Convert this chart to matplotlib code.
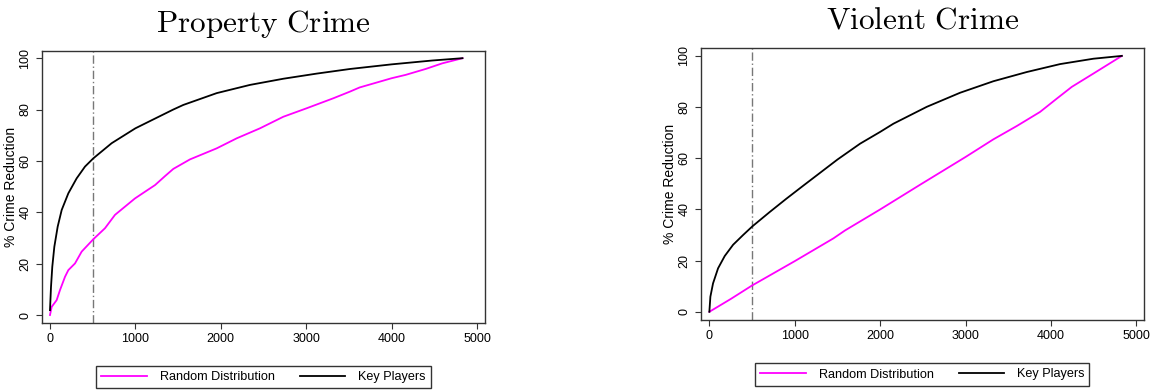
import matplotlib
matplotlib.use("Agg")
import matplotlib.pyplot as plt
from matplotlib.lines import Line2D

plt.rcParams["font.family"] = ["Liberation Sans", "DejaVu Sans"]
plt.rcParams["mathtext.fontset"] = "cm"

# Property crime: key players curve
prop_key_x = [0, 12, 27, 51, 90, 137, 215, 312, 410, 507, 722, 1000, 1200, 1443,
              1561, 1952, 2342, 2732, 3123, 3513, 4000, 4477, 4830]
prop_key_y = [1.9, 11, 18.8, 26.6, 34.4, 40.9, 47.4, 53.2, 57.8, 61.0, 66.9, 72.7,
              76.0, 80.0, 81.8, 86.4, 89.6, 92.0, 94.0, 95.8, 97.6, 99.1, 100]

# Property crime: random distribution
prop_rand_x = [0, 20, 78, 117, 176, 215, 293, 371, 507, 644, 761, 878, 995, 1112,
               1230, 1347, 1444, 1639, 1952, 2186, 2459, 2732, 3005, 3318, 3513,
               3625, 4000, 4164, 4398, 4594, 4830]
prop_rand_y = [0, 3.2, 5.8, 9.7, 14.9, 17.5, 20.1, 24.7, 29.5, 33.8, 39, 42.2, 45.4,
               48.0, 50.6, 54.1, 56.9, 60.6, 64.9, 68.8, 72.7, 77.2, 80.5, 84.4, 87.0,
               88.6, 92.2, 93.5, 95.8, 98, 100]

# Violent crime: key players curve
viol_key_x = [0, 12, 43, 102, 180, 278, 395, 504, 707, 902, 1100, 1300, 1500, 1765,
              2000, 2155, 2546, 2936, 3326, 3717, 4107, 4497, 4830]
viol_key_y = [0, 5.9, 11.1, 17, 21.8, 26.2, 30.0, 33.4, 39.0, 44.2, 49.3, 54.4, 59.5,
              65.7, 70.3, 73.5, 80.1, 85.6, 90.1, 93.7, 96.8, 98.9, 100]

# Violent crime: random distribution
viol_rand_x = [0, 250, 496, 1000, 1453, 1589, 2000, 2465, 3000, 3326, 3600, 3872,
               4068, 4244, 4497, 4830]
viol_rand_y = [0, 5, 10.2, 19.8, 28.7, 31.8, 40, 49.6, 60.5, 67.4, 72.6, 78.1,
               83.3, 87.9, 93.1, 100]

cutoff = 500
titles = ["Property Crime", "Violent Crime"]
x_ticks = [0, 1000, 2000, 3000, 4000, 5000]
y_ticks = [0, 20, 40, 60, 80, 100]

fig = plt.figure(figsize=(11.59, 3.92), dpi=100)
ax1 = fig.add_axes([0.0362, 0.176, 0.3823, 0.6939])
ax2 = fig.add_axes([0.6046, 0.1837, 0.3825, 0.6946])

panels = [
    (ax1, prop_rand_x, prop_rand_y, prop_key_x, prop_key_y, (-94, 5094), (-3.1, 102.8), 377),
    (ax2, viol_rand_x, viol_rand_y, viol_key_x, viol_key_y, (-101, 5090), (-3.2, 103.2), 374.5),
]

for i, (ax, rx, ry, kx, ky, xl, yl, leg_y) in enumerate(panels):
    ax.axvline(cutoff, color="#777777", linewidth=1, dashes=(6, 2, 1, 2))
    ax.plot(rx, ry, color="#ff00ff", linewidth=1.3)
    ax.plot(kx, ky, color="black", linewidth=1.3)
    ax.set_xlim(*xl)
    ax.set_ylim(*yl)
    ax.set_xticks(x_ticks)
    ax.set_yticks(y_ticks)
    ax.set_yticklabels([str(v) for v in y_ticks], rotation=90, va="center")
    ax.tick_params(labelsize=9, length=4, width=0.8, color="#333333", direction="out")
    ax.set_ylabel("% Crime Reduction", fontsize=10, labelpad=1)
    for s in ax.spines.values():
        s.set_linewidth(1.0)
        s.set_color("#333333")
    ax.set_title(r"$\mathrm{" + titles[i].replace(" ", r"\ ") + "}$", fontsize=22.5, pad=14)

    handles = [Line2D([], [], color="#ff00ff", linewidth=1.3),
               Line2D([], [], color="black", linewidth=1.3)]
    bb = ax.get_position()
    cx = (bb.x0 + bb.x1) / 2
    cy = 1 - leg_y / 392
    leg = fig.legend(handles, ["Random Distribution", "Key Players"], loc="center",
                     bbox_to_anchor=(cx, cy), ncol=2, fontsize=9.1, frameon=True,
                     fancybox=False, edgecolor="black", handlelength=3.6,
                     columnspacing=2.0, borderpad=0.4, handletextpad=1.0)
    leg.get_frame().set_linewidth(1.0)

fig.savefig("out.png", dpi=100)
